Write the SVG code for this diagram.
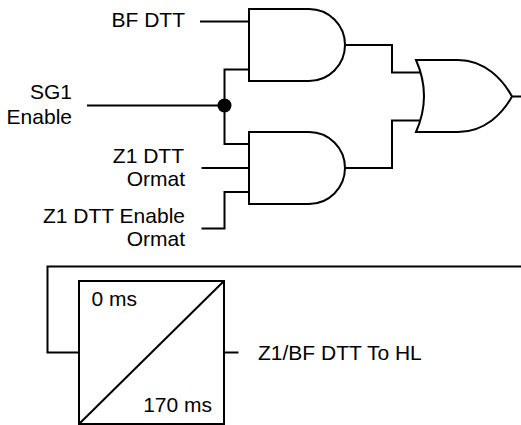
<svg xmlns="http://www.w3.org/2000/svg" width="521" height="425" viewBox="0 0 521 425">
<style>
.w{fill:none;stroke:#000;stroke-width:2;stroke-linejoin:miter}
.g{fill:#fff;stroke:#000;stroke-width:2}
text{font-family:"Liberation Sans",Arial,sans-serif;font-size:21px;fill:#000}
.r{text-anchor:end}
</style>
<rect width="521" height="425" fill="#fff"/>
<g id="connectors">
<path class="w" d="M200,21.5H249"/>
<path class="w" d="M87,105.5H224.5"/>
<path class="w" d="M249,69.5H224.5V144H249"/>
<path class="w" d="M201.5,168H249"/>
<path class="w" d="M201.5,228.5H224.5V192H249"/>
<path class="w" d="M345,45H392V72.5H421"/>
<path class="w" d="M345,168H392V120.5H421"/>
<path class="w" d="M512,96.5H521"/>
<path class="w" d="M521,266.5H47.5V352.5H79"/>
<path class="w" d="M224,352.5H238.5"/>
<circle cx="224.5" cy="105.5" r="7" fill="#000"/>
</g>
<g id="and1"><path class="g" d="M249,9H309A36,36 0 0 1 309,81H249Z"/></g>
<g id="and2"><path class="g" d="M249,132H309A36,36 0 0 1 309,204H249Z"/></g>
<g id="or1"><path class="g" d="M416,60H458C485,60 503,80 512,96.5C503,113 485,132 458,132H416Q432,96 416,60Z"/></g>
<g id="timer">
<rect class="g" x="79" y="281" width="145" height="143"/>
<path class="w" d="M79,424L224,281"/>
<text x="91.5" y="305.5">0 ms</text>
<text class="r" x="212" y="411.5">170 ms</text>
</g>
<g id="labels">
<text class="r" x="185" y="27">BF DTT</text>
<text class="r" x="72" y="99">SG1</text>
<text class="r" x="72" y="124">Enable</text>
<text class="r" x="184" y="162.5">Z1 DTT</text>
<text class="r" x="185" y="186">Ormat</text>
<text class="r" x="185" y="222.5">Z1 DTT Enable</text>
<text class="r" x="185" y="245.5">Ormat</text>
<text x="258" y="360">Z1/BF DTT To HL</text>
</g>
</svg>
